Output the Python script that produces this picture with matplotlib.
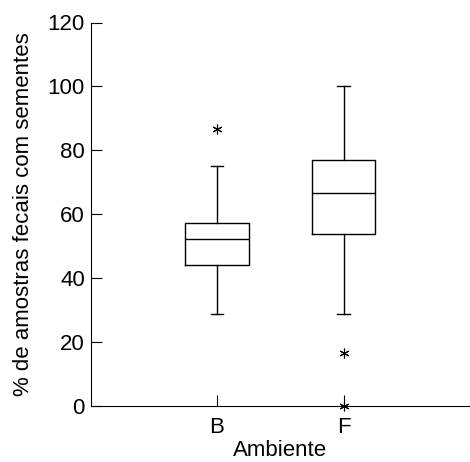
import matplotlib
matplotlib.use("Agg")
import matplotlib.pyplot as plt

plt.rcParams['font.family'] = ['Liberation Sans', 'DejaVu Sans']

# box statistics
groups = ["B", "F"]
medians = [52.1, 66.7]
q1 = [43.9, 53.8]
q3 = [57.2, 76.9]
whisker_low = [28.7, 28.6]
whisker_high = [75.0, 100.0]
outliers = [[86.5], [16.5, 0.0]]

stats = []
for i, g in enumerate(groups):
    stats.append({
        "label": g,
        "med": medians[i],
        "q1": q1[i],
        "q3": q3[i],
        "whislo": whisker_low[i],
        "whishi": whisker_high[i],
        "fliers": outliers[i],
    })

fig = plt.figure(figsize=(4.7, 4.62), dpi=100)
ax = fig.add_axes([90.5 / 470, 56.5 / 462, 379.5 / 470, 383 / 462])

parts = ax.bxp(stats, positions=[1, 2], widths=0.5,
               boxprops=dict(color="black", linewidth=1),
               medianprops=dict(color="black", linewidth=1),
               whiskerprops=dict(color="black", linewidth=1),
               capprops=dict(color="black", linewidth=1),
               capwidths=0.1,
               flierprops=dict(marker=(6, 2, 0), markersize=7, markeredgecolor="black",
                               markeredgewidth=0.8, linestyle="none"))
for f in parts["fliers"]:
    f.set_clip_on(False)
    f.set_zorder(5)

ax.set_xlim(0, 3)
ax.set_ylim(0, 120)
ax.set_yticks([0, 20, 40, 60, 80, 100, 120])
ax.set_xticks([1, 2])
ax.set_xticklabels(groups)
ax.spines["top"].set_visible(False)
ax.spines["right"].set_visible(False)
ax.tick_params(axis="y", direction="in", length=8, pad=4, labelsize=16)
ax.tick_params(axis="x", direction="in", length=8, pad=8, labelsize=16)
ax.set_xlabel("Ambiente", fontsize=16, labelpad=2)
ax.set_ylabel("% de amostras fecais com sementes", fontsize=16, labelpad=10)

fig.savefig("out.png", dpi=100)
